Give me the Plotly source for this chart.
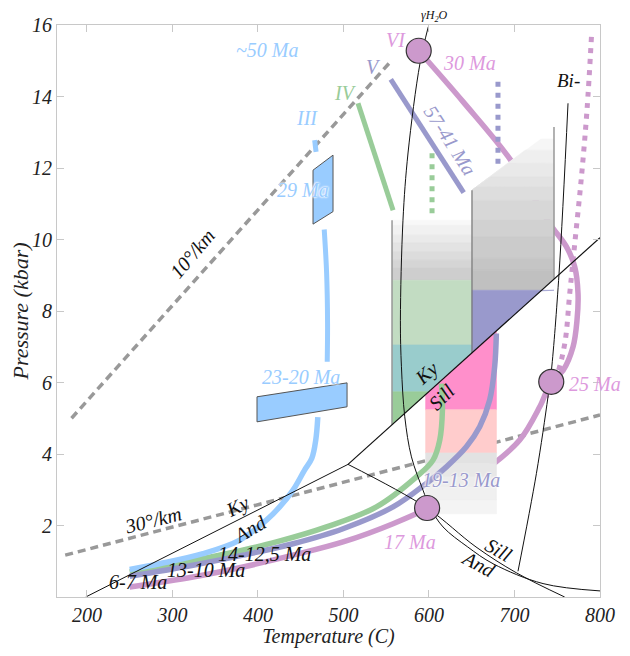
import numpy as np
import plotly.graph_objects as go

FONT = "Liberation Serif"

# ---------------- data ----------------
x_ticks = [200, 300, 400, 500, 600, 700, 800]
y_ticks = [2, 4, 6, 8, 10, 12, 14, 16]

geo10_T = [182, 556]
geo10_P = [5.0, 15.0]
geo30_T = [174.6, 800]
geo30_P = [1.17, 5.09]

ky_and_T = [198.6, 505.3]
ky_and_P = [0.0, 3.71]
ky_sill_T = [505.3, 800]
ky_sill_P = [3.71, 10.05]
and_sill_T = [505.3, 597, 655, 702, 758.7]
and_sill_P = [3.71, 2.5, 1.4, 0.68, 0.0]

solidus_T = [599.2, 589.5, 575.5, 569.6, 566.6, 567.8, 571.7, 579.5, 593, 601, 616.4, 645.3, 675, 733.4, 800]
solidus_P = [15.95, 14.93, 12.42, 10.54, 7.74, 6.44, 5.04, 3.92, 2.99, 2.52, 1.96, 1.40, 0.93, 0.375, 0.17]

bi_T = [762.6, 752.1, 743.2, 739.2, 725.6, 704.1]
bi_P = [13.81, 9.05, 6.34, 5.60, 3.45, 0.72]

# P-T paths
blueA_T = [466.3, 468.0]
blueA_P = [12.78, 12.45]
blueB_T = [477.5, 480.3, 481.4, 481.0]
blueB_P = [10.28, 9.06, 7.66, 6.58]
blueC_T = [470.0, 467.6, 463.0, 454.5, 441.0, 425.4, 409.9, 378.7, 335.7, 285.1, 250.0]
blueC_P = [5.03, 4.39, 3.88, 3.55, 2.99, 2.52, 2.15, 1.59, 1.21, 0.93, 0.77]
box29_T = [464.4, 487.8, 487.8, 464.4]
box29_P = [11.94, 12.36, 10.78, 10.43]
box2320_T = [398.9, 504.2, 504.2, 398.9]
box2320_P = [5.60, 5.99, 5.32, 4.90]

greenA_T = [517.0, 558.0]
greenA_P = [13.81, 10.82]
greenDot_T = [603.6, 603.6]
greenDot_P = [12.41, 10.64]
greenB_T = [614.6, 615.7, 612.6, 604.7, 585.3, 538.5, 480.1, 421.6, 363.1, 304.6, 250.0]
greenB_P = [5.97, 5.23, 4.39, 3.83, 3.36, 2.52, 1.96, 1.54, 1.21, 0.93, 0.70]

purpleA_T = [555.3, 640.6]
purpleA_P = [14.48, 11.31]
purpleDot_T = [680.7, 680.7]
purpleDot_P = [14.41, 12.08]
purpleB_T = [678.8, 676.8, 671.0, 659.3, 643.7, 620.4, 597.0, 558.0, 499.5, 441.0, 382.5, 324.0, 250.0]
purpleB_P = [7.37, 6.44, 5.51, 4.76, 4.20, 3.64, 3.18, 2.52, 1.91, 1.49, 1.17, 0.89, 0.58]

pink_T = [588.0, 640.0, 695.6, 741.0, 760.7, 770.4, 774.3, 773.1, 768.5, 756.8, 743.0, 729.5, 706.1,
          671.0, 632.1, 608.7, 558.0, 499.5, 441.0, 382.5, 324.0, 250.0]
pink_P = [15.28, 13.85, 12.22, 10.45, 9.80, 9.24, 8.49, 7.74, 7.00, 6.34, 6.02, 5.32, 4.39,
          3.64, 2.99, 2.61, 2.05, 1.54, 1.17, 0.84, 0.56, 0.28]
pinkDot_T = [790.0, 784.8, 778.3, 770.5, 764.6, 758.8, 749.0, 737.3]
pinkDot_P = [15.67, 13.62, 11.75, 9.89, 8.49, 7.09, 6.16, 5.60]

circle_T = [588.0, 743.0, 597.8]
circle_P = [15.28, 6.02, 2.49]

# shaded boxes (band edges in kbar, colours top->bottom)
boxA_T = [556.8, 650.3]
boxA_edges = [10.54, 10.40, 10.12, 9.90, 9.65, 9.42, 9.20, 8.86, 7.05, 5.74, 0.0]
boxA_colors = ['#f8f8f8', '#f1f1f1', '#eaeaea', '#e3e3e3', '#dcdcdc', '#d5d5d5', '#cecece',
               '#c2dcc2', '#99cccc', '#99cc99']
boxB_T = [650.3, 746.2]
boxB_top_T = [650.3, 729.5, 746.2]
boxB_top_P = [11.38, 12.81, 12.81]
boxB_edges = [12.83, 12.50, 12.13, 11.75, 11.47, 11.10, 10.55, 10.08, 9.47, 9.14, 8.58, 0.0]
boxB_colors = ['#f6f6f6', '#efefef', '#e9e9e9', '#e3e3e3', '#dddddd', '#d7d7d7', '#d1d1d1',
               '#cbcbcb', '#c5c5c5', '#c0c0c0', '#9999cc']
boxP_T = [596.1, 678.9]
boxP_edges = [16.0, 5.24, 4.03, 3.73, 3.36, 3.08, 2.71, 2.33]
boxP_colors = ['#ff8fcb', '#ffcccc', '#e2e2e2', '#e7e7e7', '#ececec', '#f0f0f0', '#f4f4f4']

BLUE = '#99ccff'
GREEN = '#99cc99'
PURPLE = '#9999cc'
PINK = '#cc99cc'
PINKTXT = '#dd99dd'

# ---------------- helpers ----------------
def ky_sill_lin(T):
    T = np.asarray(T, dtype=float)
    return ky_sill_P[0] + (T - ky_sill_T[0]) * (ky_sill_P[1] - ky_sill_P[0]) / (ky_sill_T[1] - ky_sill_T[0])

fig = go.Figure()

def line(T, P, color, width=1, dash=None, shape='linear'):
    fig.add_trace(go.Scatter(x=T, y=P, mode='lines', hoverinfo='skip', showlegend=False,
                             line=dict(color=color, width=width, dash=dash, shape=shape)))

def poly(T, P, color, edge=None, ew=0):
    fig.add_trace(go.Scatter(x=list(T) + [T[0]], y=list(P) + [P[0]], mode='lines', fill='toself',
                             fillcolor=color, hoverinfo='skip', showlegend=False,
                             line=dict(color=edge if edge else color, width=ew if edge else 0.6)))

def band(T0, T1, lo_fn, hi_fn, color, n=120):
    T = np.linspace(T0, T1, n)
    hi = hi_fn(T)
    lo = np.minimum(lo_fn(T), hi)
    if np.all(hi - lo <= 1e-9):
        return
    poly(np.concatenate([T, T[::-1]]), np.concatenate([hi, lo[::-1]]), color)

# geotherms
line(geo10_T, geo10_P, '#999999', 3.5, '8px,5px')
line(geo30_T, geo30_P, '#999999', 3.5, '8px,5px')

# pink path (partly hidden by box B)
line(pink_T, pink_P, PINK, 5.5, shape='spline')

# boxes
for i, c in enumerate(boxA_colors):
    lo, hi = boxA_edges[i + 1], boxA_edges[i]
    band(boxA_T[0], boxA_T[1], lambda T, lo=lo: np.maximum(lo, ky_sill_lin(T)),
         lambda T, hi=hi: np.full_like(T, hi), c)
for i, c in enumerate(boxB_colors):
    lo, hi = boxB_edges[i + 1], boxB_edges[i]
    band(boxB_T[0], boxB_T[1], lambda T, lo=lo: np.maximum(lo, ky_sill_lin(T)),
         lambda T, hi=hi: np.minimum(hi, np.interp(T, boxB_top_T, boxB_top_P)), c)
for i, c in enumerate(boxP_colors):
    lo, hi = boxP_edges[i + 1], boxP_edges[i]
    band(boxP_T[0], boxP_T[1], lambda T, lo=lo: np.full_like(T, lo),
         lambda T, hi=hi: np.minimum(hi, ky_sill_lin(T)), c)

# box edges
line([boxA_T[0], boxA_T[0]], [boxA_edges[0], float(ky_sill_lin(boxA_T[0]))], '#999999', 1.5)
line([boxB_T[0], boxB_T[0]], [boxB_top_P[0], float(ky_sill_lin(boxB_T[0]))], '#777777', 1.2)
line([boxB_T[1], boxB_T[1]], [13.15, float(ky_sill_lin(boxB_T[1]))], '#999999', 1.5)

# other paths
line(pinkDot_T, pinkDot_P, PINK, 5, '5px,6px', 'spline')
line(purpleDot_T, purpleDot_P, PURPLE, 5, '5px,6px')
line(greenDot_T, greenDot_P, GREEN, 5, '5px,6px')
line(greenA_T, greenA_P, GREEN, 5)
line(purpleA_T, purpleA_P, PURPLE, 5)
line(greenB_T, greenB_P, GREEN, 5.5, shape='spline')
line(purpleB_T, purpleB_P, PURPLE, 5.5, shape='spline')
line(blueA_T, blueA_P, BLUE, 5)
line(blueB_T, blueB_P, BLUE, 5, shape='spline')
line(blueC_T, blueC_P, BLUE, 5.5, shape='spline')
poly(box29_T, box29_P, BLUE, '#555555', 1)
poly(box2320_T, box2320_P, BLUE, '#555555', 1)

# black reaction lines
line(ky_and_T, ky_and_P, '#111111', 1)
line(ky_sill_T, ky_sill_P, '#111111', 1.2)
line(and_sill_T, and_sill_P, '#111111', 1, shape='spline')
line(solidus_T, solidus_P, '#111111', 1, shape='spline')
line(bi_T, bi_P, '#111111', 1, shape='spline')

# circles
fig.add_trace(go.Scatter(x=circle_T, y=circle_P, mode='markers', hoverinfo='skip', showlegend=False,
                         marker=dict(size=25, color=PINK, line=dict(color='#333333', width=1.2))))

# ---------------- labels ----------------
HALO = "0px 0px 2px white, 0px 0px 2px white, 0px 0px 3px white"
S = 20
labels = [
    ("~50 Ma", 410, 15.3, BLUE, S, 0, False),
    ("III", 457, 13.39, BLUE, S, 0, False),
    ("29 Ma", 452.7, 11.38, BLUE, S, 0, True),
    ("23-20 Ma", 450.8, 6.15, BLUE, S, 0, True),
    ("IV", 502.6, 14.09, GREEN, S, 0, False),
    ("V", 534.6, 14.83, PURPLE, S, 0, False),
    ("VI", 561, 15.58, PINKTXT, S, 0, False),
    ("30 Ma", 647.6, 14.93, PINKTXT, S, 0, False),
    ("57-41 Ma", 624.3, 12.78, PURPLE, S, 57, True),
    ("Bi-", 762.6, 14.46, '#111111', 19, 0, False),
    ("10°/km", 324, 9.61, '#111111', S, -50, False),
    ("30°/km", 277.4, 2.15, '#111111', S, -14, False),
    ("Ky", 376.6, 2.52, '#111111', S, -27, False),
    ("And", 390.4, 1.91, '#111111', S, -30, False),
    ("14-12,5 Ma", 408, 1.21, '#111111', S, 0, False),
    ("13-10 Ma", 339.7, 0.75, '#111111', S, 0, False),
    ("6-7 Ma", 259.7, 0.42, '#111111', S, 0, False),
    ("Ky", 597, 6.25, '#111111', S, -42, False),
    ("Sill", 614.6, 5.6, '#111111', S, -45, False),
    ("19-13 Ma", 638, 3.27, PURPLE, S, 0, True),
    ("17 Ma", 577.5, 1.54, PINKTXT, S, 0, False),
    ("25 Ma", 794, 5.97, PINKTXT, S, 0, False),
    ("Sill", 681.5, 1.31, '#111111', S, 30, False),
    ("And", 658, 0.93, '#111111', S, 28, False),
]
for txt, T, P, col, sz, ang, halo in labels:
    f = dict(family=FONT, size=sz, color=col, style='italic')
    if halo:
        f['shadow'] = HALO
    fig.add_annotation(x=T, y=P, xref='x', yref='y', text=txt, showarrow=False,
                       font=f, textangle=ang)

# solidus label sits just above the plot frame
fig.add_annotation(x=607, y=1.0, xref='x', yref='paper', yanchor='bottom', yshift=-1,
                   text="γH<sub>2</sub>O", showarrow=False,
                   font=dict(family=FONT, size=12, color='#111111', style='italic'))

axis_common = dict(showline=True, linecolor='#c8c8c8', linewidth=1.2, mirror='ticks',
                   ticks='inside', ticklen=7, tickcolor='#c8c8c8', showgrid=False, zeroline=False,
                   automargin=False,
                   tickfont=dict(family=FONT, size=20, color='#222222', style='italic'))

# the page body adds an 8px offset, so the figure is sized to fit the window
fig.update_layout(
    width=614, height=640,
    margin=dict(l=49, r=22, t=17, b=51),
    plot_bgcolor='white', paper_bgcolor='white',
    xaxis=dict(range=[165, 800], tickvals=x_ticks, ticklabelstandoff=0,
               title=dict(text='Temperature (C)', standoff=18,
                          font=dict(family=FONT, size=20, color='#222222', style='italic')),
               **axis_common),
    yaxis=dict(range=[0, 16], tickvals=y_ticks,
               title=dict(text='Pressure (kbar)', standoff=0,
                          font=dict(family=FONT, size=22, color='#222222', style='italic')),
               **axis_common),
)

fig.write_html("out.html")
